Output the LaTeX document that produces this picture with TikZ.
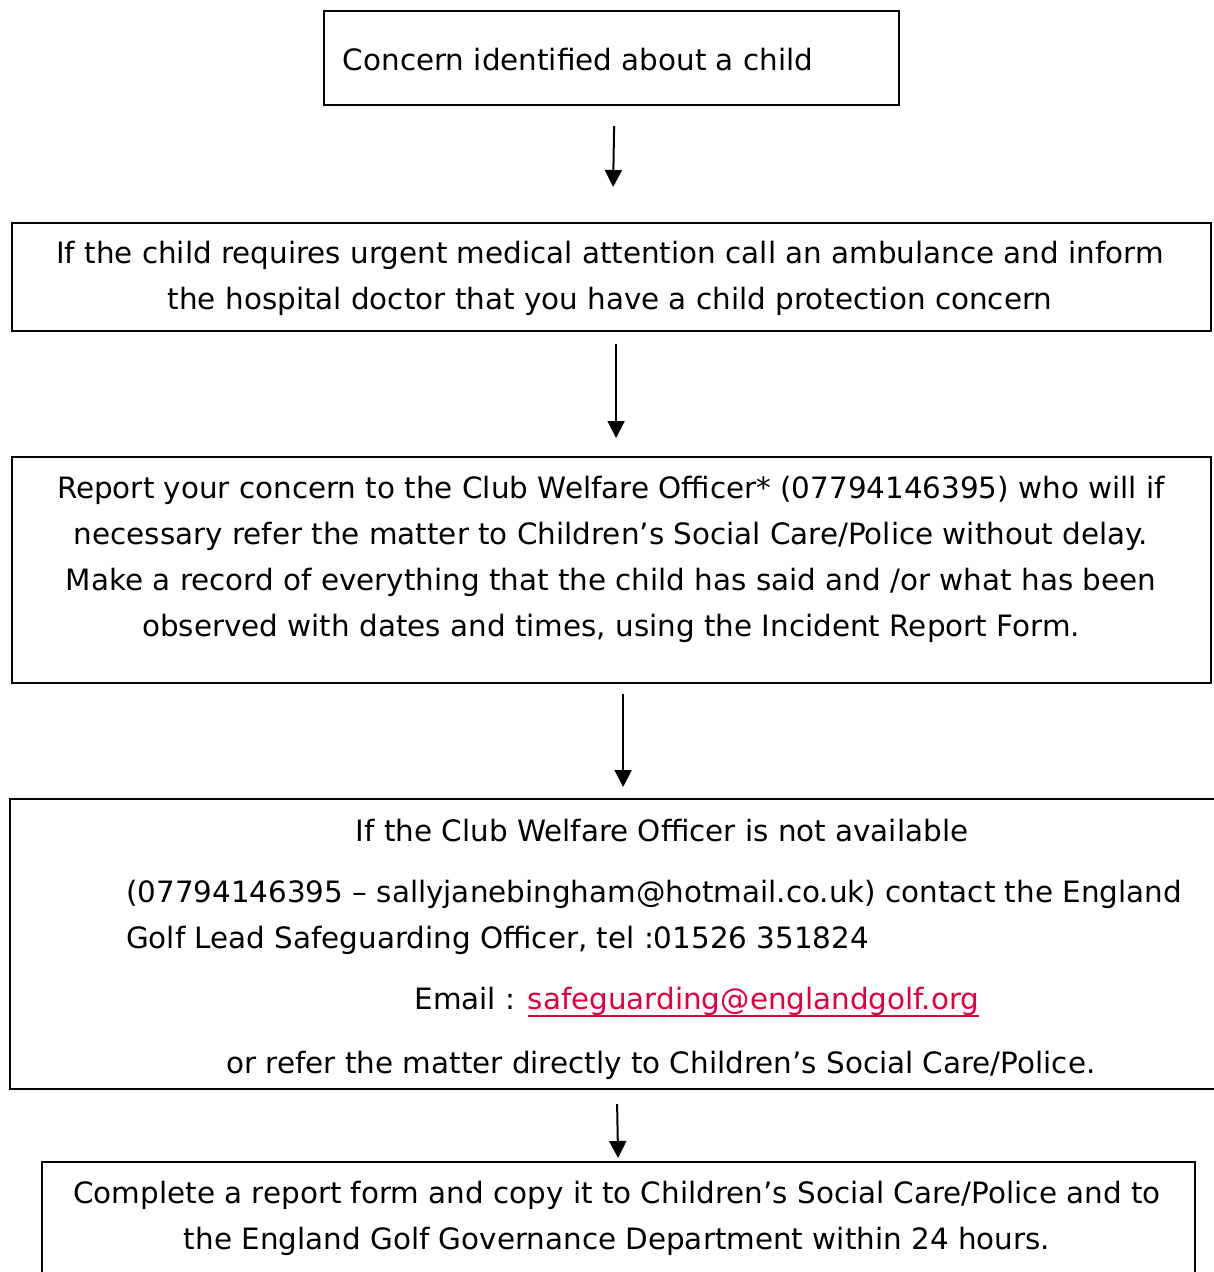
\documentclass[tikz,border=0pt]{standalone}
\usepackage{fontspec}
\setmainfont{DejaVu Sans}
\usetikzlibrary{arrows.meta, calc}
\definecolor{linkred}{HTML}{E2003C}
\newcommand{\linkline}[1]{\setbox0=\hbox{#1}\rlap{\rule[-7pt]{\wd0}{2pt}}\box0}

\begin{document}
\begin{tikzpicture}[x=1pt, y=-1pt,
    frame/.style={draw, line width=2.2pt, inner sep=0pt, anchor=north west},
    txt/.style={inner sep=0pt, align=center, font=\fontsize{29.4}{46}\selectfont},
    arr/.style={-{Triangle[length=17pt, width=17pt]}, line width=2pt}
  ]
    \useasboundingbox (0,0) rectangle (1214,1272);

    % boxes
    \node[frame, minimum width=575pt, minimum height=94pt] (concern) at (323,10) {};
    \node[frame, minimum width=1199pt, minimum height=108pt] (urgent) at (11,222) {};
    \node[frame, minimum width=1199pt, minimum height=226pt] (report) at (11,456) {};
    \node[frame, minimum width=1223pt, minimum height=290pt] (unavail) at (9,798) {};
    \node[frame, minimum width=1153pt, minimum height=130pt] (complete) at (41,1161) {};

    % texts
    \node[txt] (concernT) at (578,60) {Concern identified about a child};
    \node[txt] (urgentT) at (610,278)
      {If the child requires urgent medical attention call an ambulance and inform\\
       the hospital doctor that you have a child protection concern};
    \node[txt] (reportT) at (611,559)
      {Report your concern to the Club Welfare Officer* (07794146395) who will if\\
       necessary refer the matter to Children’s Social Care/Police without delay.\\
       Make a record of everything that the child has said and /or what has been\\
       observed with dates and times, using the Incident Report Form.};
    \node[txt] (unavailT) at (662,831) {If the Club Welfare Officer is not available};
    \node[txt, align=left, anchor=west] (contactT) at (126,917)
      {(07794146395 – sallyjanebingham@hotmail.co.uk) contact the England\\
       Golf Lead Safeguarding Officer, tel :01526 351824};
    \node[txt] (emailT) at (697,1002)
      {Email : \textcolor{linkred}{\linkline{safeguarding@englandgolf.org}}};
    \node[txt] (referT) at (661,1065)
      {or refer the matter directly to Children’s Social Care/Police.};
    \node[txt] (completeT) at (617,1218)
      {Complete a report form and copy it to Children’s Social Care/Police and to\\
       the England Golf Governance Department within 24 hours.};

    % arrows
    \draw[arr] ([xshift=2.5pt, yshift=-20pt]concern.south) -- ([xshift=1.5pt, yshift=35pt]urgent.north);
    \draw[arr] ([xshift=4.5pt, yshift=-12pt]urgent.south) -- ([xshift=4.5pt, yshift=18pt]report.north);
    \draw[arr] ([xshift=11.5pt, yshift=-10pt]report.south) -- ([xshift=1.5pt, yshift=11pt]unavail.north);
    \draw[arr] ([xshift=-4.5pt, yshift=-14pt]unavail.south) -- ([xshift=-0.5pt, yshift=3pt]complete.north);
\end{tikzpicture}
\end{document}
